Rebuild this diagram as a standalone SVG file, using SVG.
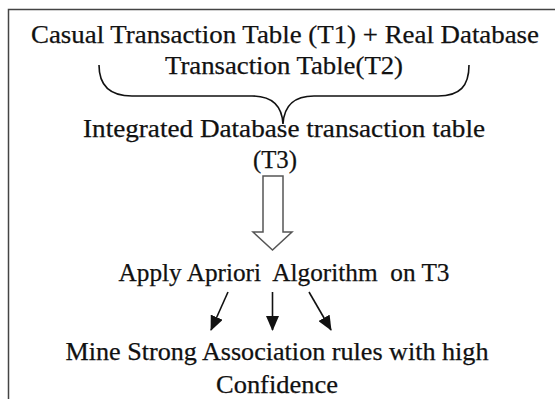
<svg xmlns="http://www.w3.org/2000/svg" width="555" height="399" viewBox="0 0 555 399">
<style>
.t{font-family:"Liberation Serif","Times New Roman",serif;font-size:25px;fill:#111;text-anchor:middle;stroke:#111;stroke-width:0.25;white-space:pre}
.c{stroke:#111;stroke-width:1.6;fill:none}
</style>
<defs>
<marker id="ah" markerUnits="userSpaceOnUse" markerWidth="15" markerHeight="13" refX="14" refY="6.5" orient="auto">
<path d="M0,0 L15,6.5 L0,13 z" fill="#111"/>
</marker>
</defs>
<rect x="0" y="0" width="555" height="399" fill="#fff"/>
<rect x="8.5" y="9.5" width="600" height="450" fill="none" stroke="#444" stroke-width="1.5"/>
<g id="n1">
<text class="t" x="285" y="42.5" textLength="508" lengthAdjust="spacingAndGlyphs">Casual Transaction Table (T1) + Real Database</text>
<text class="t" x="284" y="74" textLength="238" lengthAdjust="spacingAndGlyphs">Transaction Table(T2)</text>
</g>
<g id="n2">
<text class="t" x="284" y="137" textLength="402" lengthAdjust="spacingAndGlyphs">Integrated Database transaction table</text>
<text class="t" x="275" y="168" textLength="44" lengthAdjust="spacingAndGlyphs">(T3)</text>
</g>
<g id="n3">
<text class="t" x="284" y="280.5" textLength="331" lengthAdjust="spacingAndGlyphs" xml:space="preserve">Apply Apriori  Algorithm  on T3</text>
</g>
<g id="n4">
<text class="t" x="277" y="360" textLength="423" lengthAdjust="spacingAndGlyphs">Mine Strong Association rules with high</text>
<text class="t" x="277" y="393" textLength="122" lengthAdjust="spacingAndGlyphs">Confidence</text>
</g>
<g id="connectors">
<path class="c" stroke="#333" d="M99,65 C99,86 110,96 132,96 L252,96 C272,96 282,106 283,124 C284,106 294,96 314,96 L438,96 C460,96 469,86 469,65"/>
<path d="M263,176 L283,176 L283,232 L292,232 L272.5,250 L253,232 L263,232 Z" fill="#fff" stroke="#555" stroke-width="1.5" stroke-linejoin="miter"/>
<line class="c" x1="228" y1="292" x2="211" y2="330" marker-end="url(#ah)"/>
<line class="c" x1="272.5" y1="292" x2="272.5" y2="330" marker-end="url(#ah)"/>
<line class="c" x1="309" y1="292" x2="331" y2="330" marker-end="url(#ah)"/>
</g>
</svg>
